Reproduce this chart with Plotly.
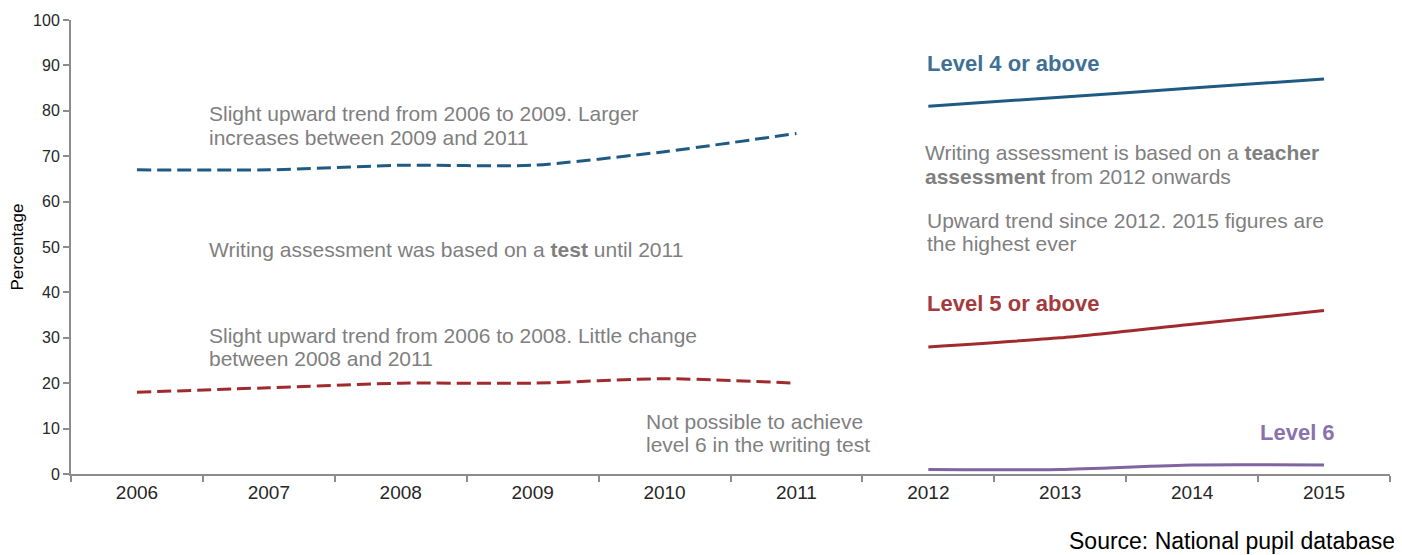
import plotly.graph_objects as go

years = ["2006", "2007", "2008", "2009", "2010", "2011", "2012", "2013", "2014", "2015"]
test_years = years[:6]
ta_years = years[6:]

l4_test = [67, 67, 68, 68, 71, 75]
l5_test = [18, 19, 20, 20, 21, 20]
l4_ta = [81, 83, 85, 87]
l5_ta = [28, 30, 33, 36]
l6_ta = [1, 1, 2, 2]

c4 = "#1f5a84"
c5 = "#a02a2e"
c6 = "#8064a2"
grey = "#7f7f7f"
FONT = "Liberation Sans, Arial, sans-serif"

# page offset of the browser body margin (8px)
OFF = 8
W, H = 1402, 555
PL, PR, PT, PB = 71, 1390, 20, 474  # plot area in page pixels

fig = go.Figure()
dash = "14px,6px"
fig.add_trace(go.Scatter(x=test_years, y=l4_test, mode="lines", line=dict(color=c4, width=3, dash=dash, shape="spline", smoothing=0.6), showlegend=False))
fig.add_trace(go.Scatter(x=test_years, y=l5_test, mode="lines", line=dict(color=c5, width=3, dash=dash, shape="spline", smoothing=0.6), showlegend=False))
fig.add_trace(go.Scatter(x=ta_years, y=l4_ta, mode="lines", line=dict(color=c4, width=3, shape="spline", smoothing=0.6), showlegend=False))
fig.add_trace(go.Scatter(x=ta_years, y=l5_ta, mode="lines", line=dict(color=c5, width=3, shape="spline", smoothing=0.6), showlegend=False))
fig.add_trace(go.Scatter(x=ta_years, y=l6_ta, mode="lines", line=dict(color=c6, width=3, shape="spline", smoothing=0.6), showlegend=False))

def px2paper(px, py):
    return (px - PL) / (PR - PL), (PB - py) / (PB - PT)

def note(text, px, py, color=grey, size=21, xanchor="left"):
    x, y = px2paper(px, py)
    fig.add_annotation(text=text, xref="paper", yref="paper", x=x, y=y,
                       xanchor=xanchor, yanchor="middle", showarrow=False, align="left",
                       borderpad=0, font=dict(family=FONT, size=size, color=color))

note("Slight upward trend from 2006 to 2009. Larger", 208, 113)
note("increases between 2009 and 2011", 208, 137)
note("Writing assessment was based on a <b>test</b> until 2011", 208, 249)
note("Slight upward trend from 2006 to 2008. Little change", 208, 335)
note("between 2008 and 2011", 208, 358)
note("Not possible to achieve", 645, 421)
note("level 6 in the writing test", 645, 444)
note("Writing assessment is based on a <b>teacher</b>", 924, 152)
note("<b>assessment</b> from 2012 onwards", 924, 176)
note("Upward trend since 2012. 2015 figures are", 926, 220)
note("the highest ever", 926, 244)
note("<b>Level 4 or above</b>", 926, 64, color="#3f7196", size=22)
note("<b>Level 5 or above</b>", 926, 303, color="#a33a3e", size=22)
note("<b>Level 6</b>", 1336, 432, color="#8a72ad", size=22, xanchor="right")
note("Source: National pupil database", 1396, 541, color="#000000", size=23, xanchor="right")

fig.update_layout(
    width=W - OFF, height=H - OFF,
    margin=dict(l=PL - OFF, r=W - PR, t=PT - OFF, b=H - PB, autoexpand=False),
    paper_bgcolor="white", plot_bgcolor="white",
    font=dict(family=FONT, color="#262626"),
)
fig.update_xaxes(type="category", categoryorder="array", categoryarray=years, automargin=False,
                 range=[-0.5, 9.5], tickson="boundaries", ticks="outside", ticklen=6,
                 tickcolor="#8c8c8c", tickwidth=1.5, showline=True, linecolor="#8c8c8c", linewidth=2,
                 showgrid=False, zeroline=False, tickfont=dict(size=19, color="#262626"))
fig.update_yaxes(range=[0, 100], dtick=10, ticks="outside", ticklen=6, automargin=False,
                 tickcolor="#8c8c8c", tickwidth=1.5, showline=True, linecolor="#8c8c8c", linewidth=2,
                 showgrid=False, zeroline=False, tickfont=dict(size=16, color="#262626"),
                 title=dict(text="Percentage", font=dict(size=17, color="#000000"), standoff=6))

fig.write_html("out.html")
